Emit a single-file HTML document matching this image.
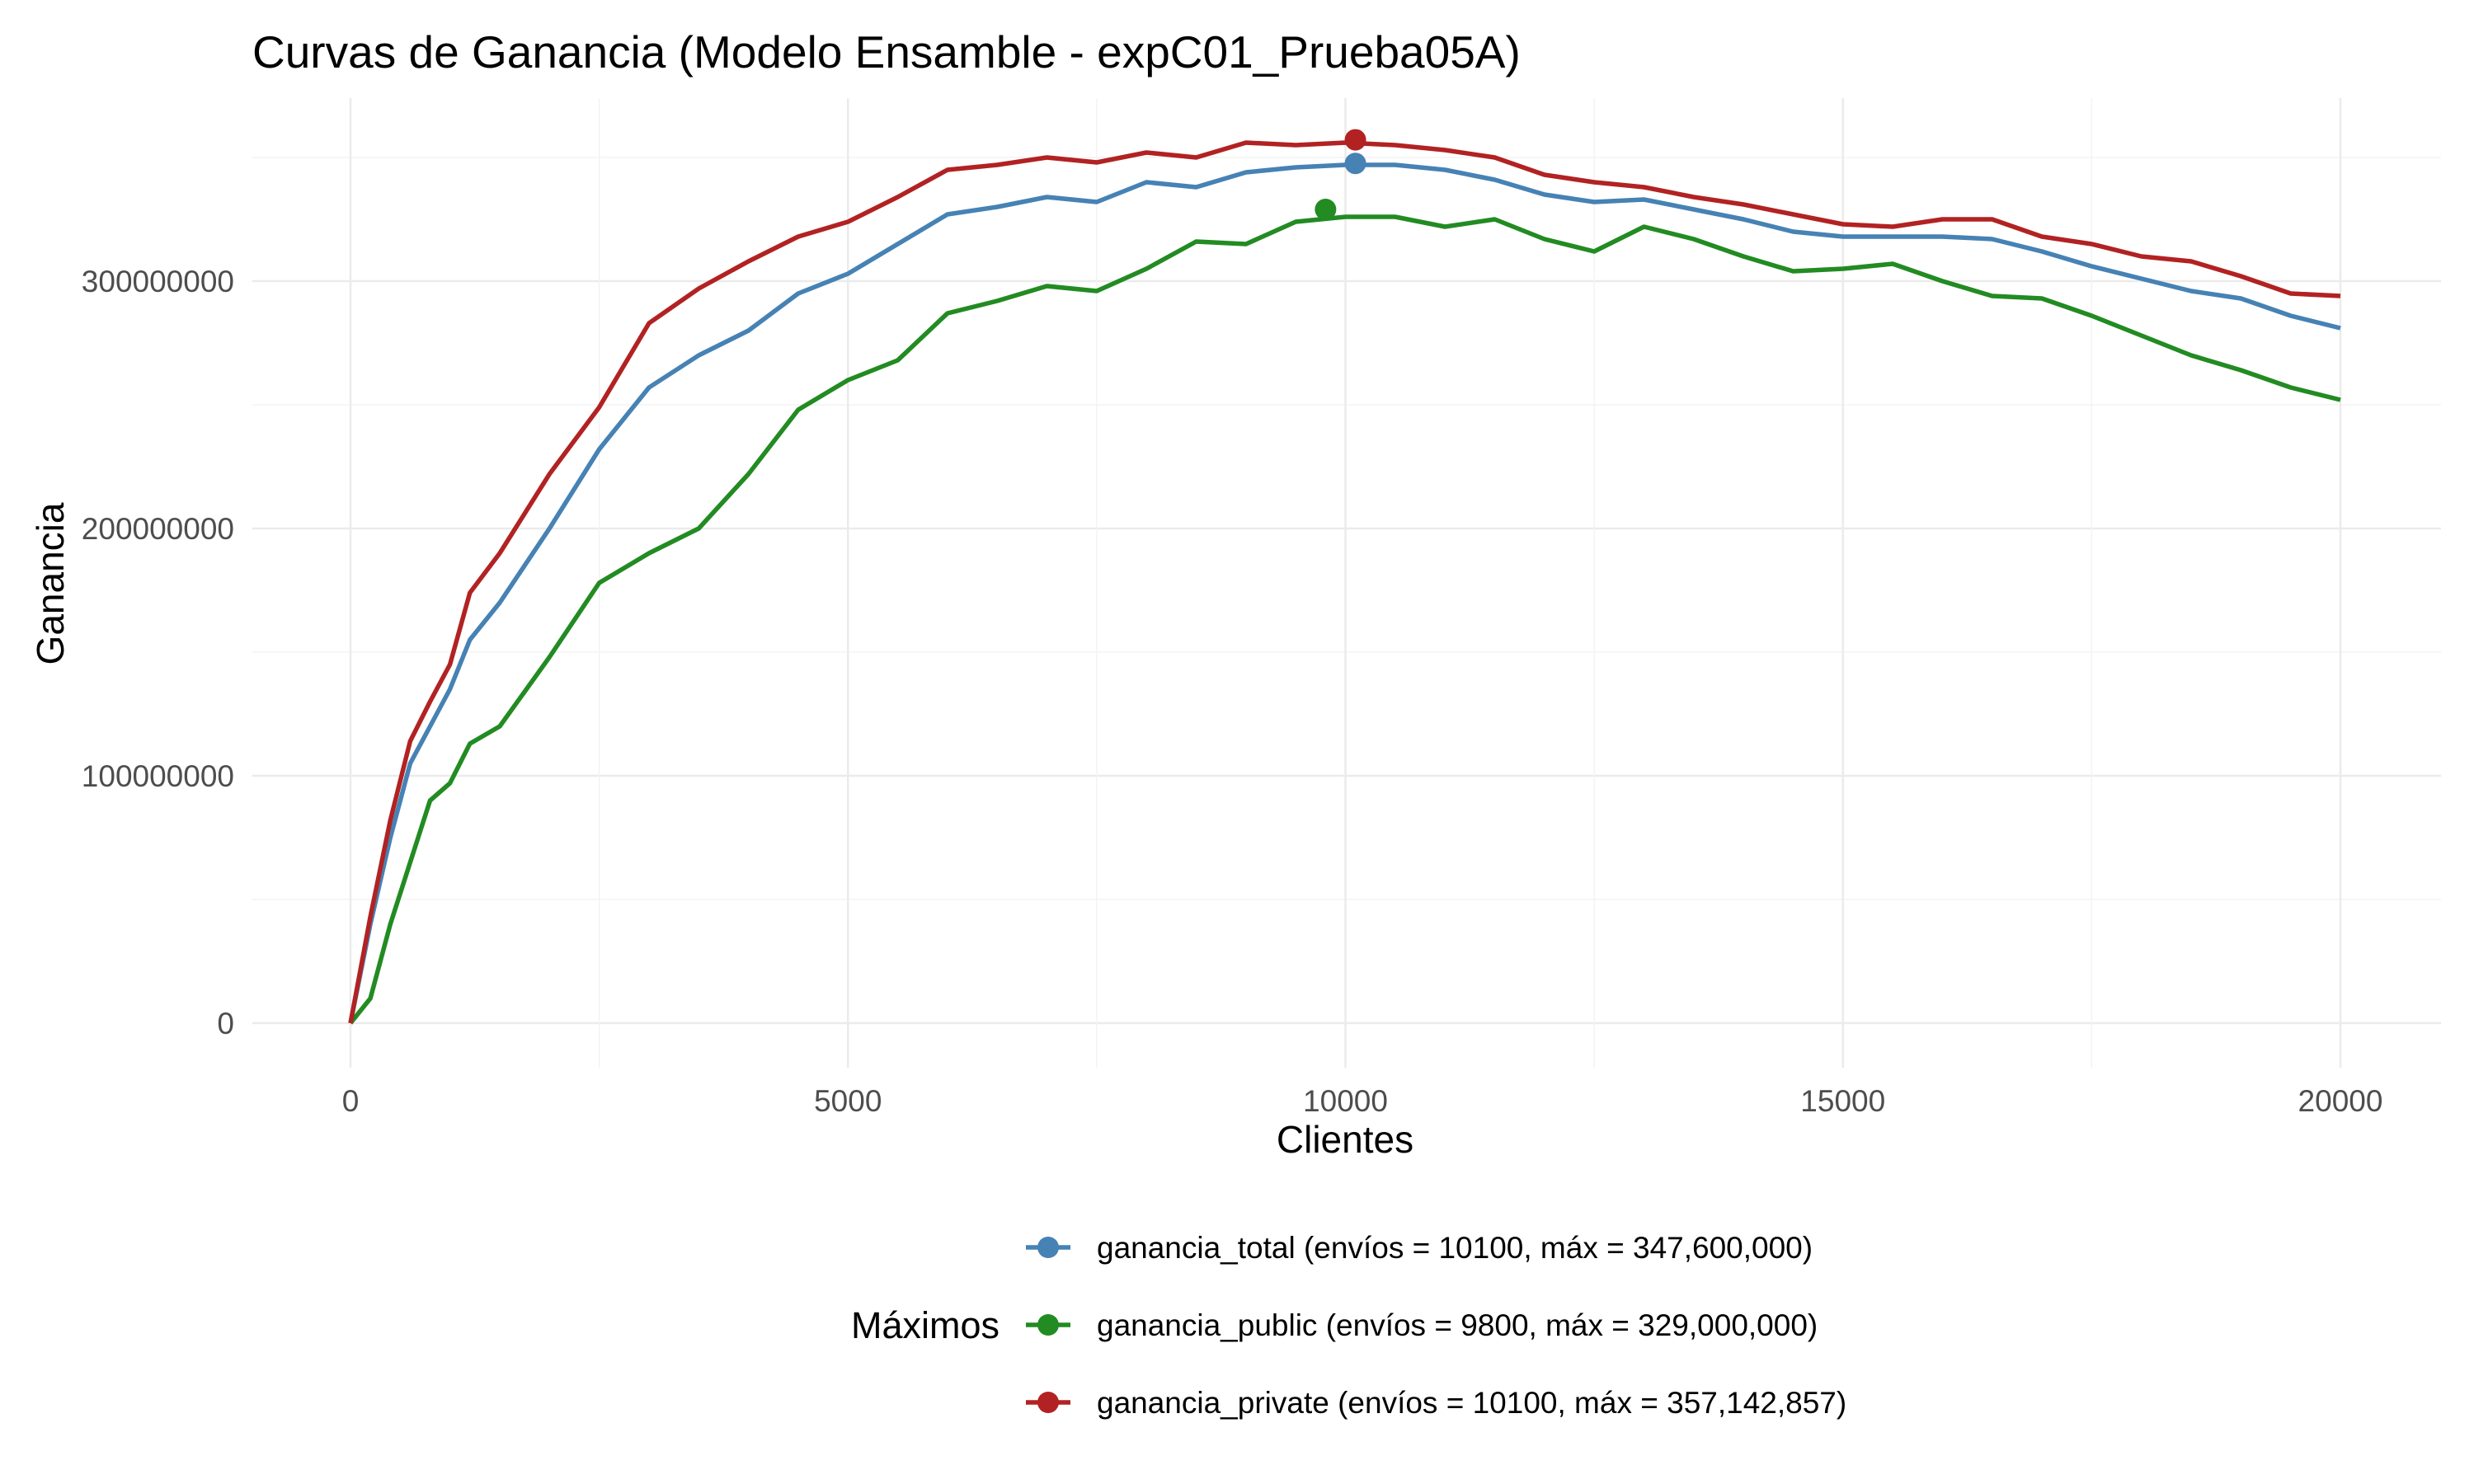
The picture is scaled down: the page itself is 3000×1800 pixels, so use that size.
<!DOCTYPE html>
<html><head><meta charset="utf-8"><style>body{margin:0;background:#fff}svg{display:block;font-family:"Liberation Sans",Arial,sans-serif}</style></head>
<body>
<svg id="c" width="3000" height="1800" viewBox="0 0 3000 1800" xmlns="http://www.w3.org/2000/svg">
<rect width="3000" height="1800" fill="#fff"/>
<text x="306" y="82" font-size="55" fill="#000">Curvas de Ganancia (Modelo Ensamble - expC01_Prueba05A)</text>
<g id="grid"></g>
<g id="axes"></g>
<g id="series"></g>
<text x="1631" y="1398" font-size="46" text-anchor="middle">Clientes</text>
<text transform="translate(77,708) rotate(-90)" font-size="46" text-anchor="middle">Ganancia</text>
<g id="legend"></g>
</svg>
<script>
const clients=[0,200,400,600,800,1000,1200,1500,2000,2500,3000,3500,4000,4500,5000,5500,6000,6500,7000,7500,8000,8500,9000,9500,10000,10500,11000,11500,12000,12500,13000,13500,14000,14500,15000,15500,16000,16500,17000,17500,18000,18500,19000,19500,20000];
const gananciaTotal=[0,40,75,105,120,135,155,170,200,232,257,270,280,295,303,315,327,330,334,332,340,338,344,346,347,347,345,341,335,332,333,329,325,320,318,318,318,317,312,306,301,296,293,286,281];
const gananciaPublic=[0,10,40,65,90,97,113,120,148,178,190,200,222,248,260,268,287,292,298,296,305,316,315,324,326,326,322,325,317,312,322,317,310,304,305,307,300,294,293,286,278,270,264,257,252];
const gananciaPrivate=[0,43,82,114,130,145,174,190,222,249,283,297,308,318,324,334,345,347,350,348,352,350,356,355,356,355,353,350,343,340,338,334,331,327,323,322,325,325,318,315,310,308,302,295,294];
const maxX=[10100,9800,10100];
const maxY=[347.6,329.0,357.142857];
const seriesNames=["ganancia_total (envíos = 10100, máx = 347,600,000)","ganancia_public (envíos = 9800, máx = 329,000,000)","ganancia_private (envíos = 10100, máx = 357,142,857)"];
const colors=["#4682B4","#228B22","#B22222"];
const xTicks=[0,5000,10000,15000,20000];
const yTicks=[0,100,200,300];
const yTickLabels=["0","100000000","200000000","300000000"];

const NS="http://www.w3.org/2000/svg";
const X=v=>425+(v/20000)*(2838-425);
const Y=v=>1241-(v/300)*(1241-341);
const PL=306,PR=2960,PT=119,PB=1295;
function mk(tag,attrs,parent){const e=document.createElementNS(NS,tag);for(const k in attrs)e.setAttribute(k,attrs[k]);parent.appendChild(e);return e;}
const grid=document.getElementById('grid'),axes=document.getElementById('axes'),ser=document.getElementById('series'),leg=document.getElementById('legend');
for(let v=-50;v<=400;v+=50){const y=Y(v);if(y<PT||y>PB)continue;const major=v%100===0;
 const l=mk('line',{x1:PL,x2:PR,y1:y,y2:y,stroke:major?'#ebebeb':'#f3f3f3','stroke-width':major?2.5:1.5},grid);
 
 }
for(let v=-2500;v<=22500;v+=2500){const x=X(v);if(x<PL||x>PR)continue;const major=v%5000===0;
 const l=mk('line',{x1:x,x2:x,y1:PT,y2:PB,stroke:major?'#ebebeb':'#f3f3f3','stroke-width':major?2.5:1.5},grid);
 
 }
xTicks.forEach(v=>{const t=mk('text',{x:X(v),y:1348,'font-size':37,fill:'#4d4d4d','text-anchor':'middle'},axes);t.textContent=v;
 
 });
yTicks.forEach((v,i)=>{const t=mk('text',{x:284,y:Y(v)+13,'font-size':37,fill:'#4d4d4d','text-anchor':'end'},axes);t.textContent=yTickLabels[i];
 
 });
const data=[gananciaTotal,gananciaPublic,gananciaPrivate];
const snames=['line-ganancia-total','line-ganancia-public','line-ganancia-private'];
data.forEach((arr,i)=>{const d=arr.map((v,j)=>(j?'L':'M')+X(clients[j]).toFixed(1)+','+Y(v).toFixed(1)).join('');
 const p=mk('path',{d:d,fill:'none',stroke:colors[i],'stroke-width':5.5,'stroke-linejoin':'round'},ser);
 
 });
maxX.forEach((v,i)=>{const c=mk('circle',{cx:X(v),cy:Y(maxY[i]),r:13,fill:colors[i]},ser);
 
 });
const ly=[1513,1607,1701];
seriesNames.forEach((n,i)=>{
 const l=mk('line',{x1:1244,x2:1298,y1:ly[i],y2:ly[i],stroke:colors[i],'stroke-width':5.5},leg);
 
 
 const c=mk('circle',{cx:1271,cy:ly[i],r:13,fill:colors[i]},leg);
 
 
 const t=mk('text',{x:1330,y:ly[i]+13,'font-size':37,fill:'#000'},leg);t.textContent=n;
 
 });
const lt=mk('text',{x:1212,y:1623,'font-size':45,'text-anchor':'end',fill:'#000'},leg);lt.textContent='Máximos';


</script>
</body></html>
